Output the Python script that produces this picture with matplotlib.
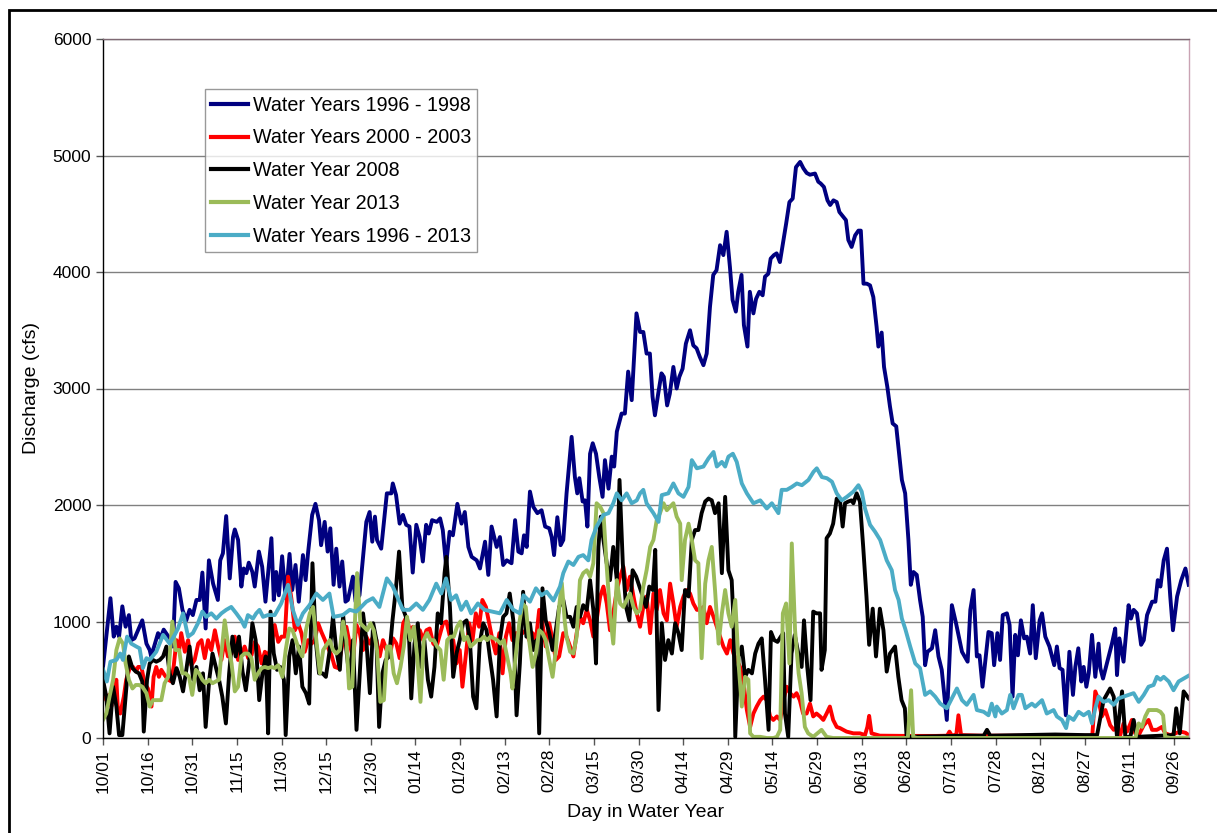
import numpy as np
import matplotlib
matplotlib.use("Agg")
import matplotlib.pyplot as plt
from matplotlib.patches import Rectangle

plt.rcParams['font.family'] = ['Liberation Sans', 'DejaVu Sans']

# daily discharge as (day in water year, cfs)
wy_1996_1998 = [
    (0.0, 610), (2.5, 1200), (3.6, 870), (4.5, 955), (5.4, 870), (6.5, 1130), (7.6, 955), (8.7, 1055),
    (9.5, 840), (10.6, 855), (13.2, 1010), (14.6, 810), (15.7, 755), (16.2, 700), (18.5, 900), (19.3, 855),
    (20.4, 930), (22.4, 855), (23.5, 785), (24.4, 1340), (25.5, 1285), (26.7, 1100), (28.0, 1010), (29.1, 1100),
    (30.2, 1055), (31.4, 1185), (32.5, 1185), (33.4, 1420), (34.5, 940), (35.6, 1525), (37.0, 1325), (38.6, 1185),
    (39.4, 1525), (40.3, 1585), (41.4, 1905), (42.6, 1370), (43.7, 1725), (44.3, 1790), (45.4, 1700), (46.5, 1300),
    (47.3, 1455), (48.2, 1415), (49.0, 1505), (50.2, 1425), (51.0, 1300), (52.4, 1600), (53.5, 1470), (54.6, 1170),
    (56.6, 1715), (57.4, 1185), (58.2, 1425), (59.1, 1225), (60.2, 1560), (61.4, 1200), (62.7, 1580), (63.6, 1270),
    (64.7, 1485), (65.8, 1170), (67.2, 1570), (68.1, 1355), (68.9, 1585), (70.3, 1915), (71.4, 2010), (72.6, 1870),
    (73.3, 1655), (74.5, 1855), (75.5, 1600), (76.4, 1800), (77.5, 1315), (78.4, 1625), (79.5, 1300), (80.4, 1515),
    (81.5, 1170), (82.3, 1185), (84.0, 1385), (84.9, 1170), (86.2, 1225), (88.5, 1855), (89.6, 1940), (90.5, 1685),
    (91.4, 1900), (92.1, 1700), (93.5, 1625), (95.4, 2100), (96.9, 2100), (97.4, 2185), (98.5, 2085), (99.7, 1840),
    (100.8, 1915), (101.9, 1830), (103.0, 1815), (104.1, 1420), (105.3, 1830), (106.4, 1725), (107.5, 1515),
    (108.6, 1830), (109.5, 1755), (110.6, 1870), (112.2, 1855), (113.3, 1885), (114.2, 1785), (115.3, 1485),
    (116.5, 1770), (117.6, 1740), (119.1, 2010), (120.5, 1840), (121.6, 1940), (122.8, 1640), (123.9, 1555),
    (125.6, 1525), (126.7, 1455), (128.4, 1685), (129.5, 1400), (130.6, 1815), (132.3, 1640), (133.4, 1725),
    (134.5, 1485), (135.7, 1525), (137.3, 1500), (138.5, 1870), (139.6, 1600), (140.7, 1585), (141.5, 1740),
    (142.4, 1640), (143.5, 2115), (144.6, 1985), (146.0, 1930), (147.4, 1955), (148.6, 1815), (150.0, 1800),
    (150.8, 1725), (151.6, 1570), (152.7, 1895), (153.8, 1655), (154.7, 1700), (155.8, 2100), (156.7, 2355),
    (157.5, 2585), (158.6, 2240), (159.4, 2100), (160.1, 2230), (161.2, 2030), (162.0, 2040), (162.8, 1815),
    (163.7, 2440), (164.6, 2530), (165.7, 2440), (166.8, 2240), (167.9, 2070), (168.7, 2385), (169.9, 2140),
    (171.0, 2415), (171.8, 2330), (172.7, 2630), (174.3, 2785), (175.4, 2785), (176.5, 3145), (177.7, 2900),
    (179.3, 3645), (180.5, 3485), (181.6, 3485), (182.7, 3300), (183.8, 3300), (184.7, 2930), (185.5, 2770),
    (186.6, 2955), (187.7, 3130), (188.5, 3100), (189.6, 2855), (190.5, 2955), (191.7, 3185), (192.8, 3000),
    (193.7, 3100), (194.8, 3170), (195.9, 3385), (197.3, 3500), (198.4, 3370), (199.5, 3345), (200.6, 3270),
    (201.8, 3200), (202.9, 3300), (204.0, 3700), (205.1, 3975), (206.2, 4015), (207.4, 4230), (208.5, 4145),
    (209.6, 4345), (210.7, 4045), (211.6, 3760), (212.7, 3660), (213.5, 3830), (214.6, 3975), (215.4, 3545),
    (216.6, 3360), (217.4, 3830), (218.6, 3645), (219.5, 3770), (220.6, 3830), (221.7, 3800), (222.5, 3960),
    (223.6, 3985), (224.4, 4115), (225.5, 4145), (226.4, 4160), (227.5, 4085), (228.7, 4275), (229.6, 4415),
    (230.7, 4600), (231.8, 4630), (232.9, 4900), (234.3, 4945), (235.4, 4890), (236.5, 4850), (237.6, 4835),
    (239.3, 4845), (240.4, 4775), (241.2, 4760), (242.3, 4730), (243.5, 4615), (244.4, 4575), (245.5, 4615),
    (246.6, 4600), (247.5, 4515), (248.6, 4480), (249.7, 4445), (250.5, 4275), (251.6, 4215), (252.8, 4315),
    (253.9, 4355), (254.7, 4355), (255.6, 3900), (256.7, 3900), (257.8, 3885), (258.9, 3785), (260.0, 3530),
    (260.6, 3360), (261.7, 3480), (262.5, 3185), (263.6, 3015), (264.5, 2845), (265.4, 2700), (266.6, 2675),
    (268.5, 2215), (269.6, 2100), (270.7, 1700), (271.5, 1315), (272.4, 1425), (273.5, 1400), (274.6, 1185),
    (275.5, 1040), (276.3, 625), (277.1, 740), (278.6, 770), (279.7, 925), (280.8, 700), (281.9, 585),
    (283.6, 155), (285.3, 1140), (286.7, 985), (288.7, 740), (290.6, 655), (291.5, 1100), (292.6, 1270),
    (293.7, 700), (294.6, 710), (295.6, 440), (297.6, 910), (298.7, 900), (299.5, 625), (300.6, 900),
    (301.5, 670), (302.4, 1055), (303.8, 1070), (304.7, 970), (305.7, 355), (306.6, 885), (307.5, 710),
    (308.5, 1010), (309.6, 855), (310.5, 870), (311.6, 725), (312.5, 1140), (313.5, 685), (314.8, 1010),
    (315.6, 1070), (316.7, 870), (318.1, 785), (319.7, 625), (320.6, 785), (321.5, 600), (322.5, 585),
    (323.6, 195), (324.8, 740), (326.0, 370), (326.8, 610), (327.8, 770), (328.8, 485), (329.6, 610),
    (330.5, 440), (331.3, 555), (332.4, 885), (333.5, 525), (334.6, 810), (335.2, 600), (336.1, 510),
    (338.0, 700), (339.1, 810), (340.2, 940), (340.8, 540), (341.6, 855), (343.0, 655), (344.7, 1140),
    (345.5, 1025), (346.4, 1100), (347.5, 1070), (348.9, 800), (349.8, 840), (350.9, 1055), (352.6, 1170),
    (353.7, 1170), (354.5, 1355), (355.4, 1300), (356.5, 1525), (357.6, 1625), (358.7, 1215), (359.6, 925),
    (361.0, 1215), (362.4, 1355), (363.8, 1455), (364.9, 1315),
]

wy_2000_2003 = [
    (0.0, 440), (1.1, 325), (2.0, 370), (2.8, 270), (3.6, 440), (4.5, 500), (5.0, 240), (5.8, 210),
    (7.0, 355), (7.8, 500), (9.0, 600), (10.1, 610), (11.2, 570), (11.8, 610), (12.9, 610), (14.0, 470),
    (15.1, 425), (16.3, 270), (17.0, 525), (17.9, 610), (18.8, 525), (19.6, 585), (20.7, 540), (21.9, 500),
    (23.0, 485), (23.8, 625), (24.7, 840), (25.6, 755), (26.3, 900), (27.5, 740), (28.6, 840), (29.7, 625),
    (30.8, 670), (32.0, 810), (33.1, 840), (34.2, 685), (35.3, 840), (36.4, 755), (37.6, 925), (38.7, 785),
    (39.8, 670), (40.9, 840), (42.0, 700), (43.2, 725), (44.3, 870), (45.4, 670), (46.5, 710), (47.6, 785),
    (48.8, 685), (49.9, 710), (51.0, 825), (52.1, 785), (53.3, 640), (54.4, 740), (55.5, 710), (56.6, 785),
    (57.7, 970), (58.9, 825), (60.0, 870), (61.1, 870), (62.2, 1385), (63.3, 1200), (64.5, 925), (65.6, 985),
    (66.7, 900), (67.8, 740), (68.9, 840), (70.1, 810), (71.2, 840), (72.3, 985), (73.4, 910), (74.6, 840),
    (75.7, 770), (76.8, 710), (77.9, 610), (79.0, 600), (80.7, 840), (81.8, 955), (82.9, 810), (84.0, 685),
    (85.2, 970), (86.3, 900), (87.4, 755), (88.5, 870), (89.7, 810), (90.8, 870), (91.9, 840), (93.0, 700),
    (94.1, 840), (95.3, 755), (96.4, 710), (97.5, 855), (98.6, 810), (99.7, 685), (100.9, 985), (102.0, 1040),
    (103.1, 925), (104.2, 955), (105.3, 840), (106.5, 925), (107.6, 840), (108.7, 925), (109.8, 940),
    (111.0, 810), (112.1, 785), (113.2, 885), (114.3, 985), (115.4, 1000), (116.6, 870), (117.7, 840),
    (118.8, 640), (119.9, 755), (120.8, 440), (121.9, 700), (123.1, 985), (124.2, 840), (125.3, 1070),
    (126.4, 955), (127.5, 1185), (128.7, 1125), (129.8, 985), (130.9, 840), (132.0, 725), (133.2, 900),
    (134.3, 555), (135.4, 870), (136.5, 985), (137.6, 840), (138.8, 900), (139.9, 900), (141.0, 900),
    (142.1, 925), (143.2, 840), (144.4, 900), (145.5, 840), (146.6, 1100), (147.7, 985), (148.8, 785),
    (150.0, 985), (151.1, 840), (152.2, 670), (153.3, 700), (154.7, 900), (155.8, 870), (157.0, 785),
    (158.1, 700), (159.2, 900), (160.3, 1040), (161.4, 985), (162.6, 1100), (163.7, 1010), (164.8, 870),
    (165.9, 1010), (167.1, 1215), (168.2, 1300), (169.3, 1155), (170.4, 925), (171.5, 1070), (172.7, 1270),
    (173.8, 1385), (174.9, 1470), (176.0, 1270), (177.1, 1385), (178.3, 1215), (179.4, 1070), (180.5, 955),
    (181.6, 1125), (182.7, 1215), (183.9, 900), (185.0, 1240), (186.1, 1100), (187.2, 1270), (188.4, 1070),
    (189.5, 1010), (190.6, 1325), (191.7, 1155), (192.8, 955), (194.0, 1125), (195.1, 1215), (196.2, 1270),
    (197.3, 1240), (198.4, 1155), (199.6, 1100), (200.7, 1100), (201.8, 1125), (202.9, 985), (204.0, 1125),
    (205.2, 1040), (206.3, 955), (207.4, 870), (208.5, 785), (209.7, 725), (210.8, 840), (211.9, 725),
    (213.0, 670), (214.1, 610), (215.3, 470), (216.4, 240), (217.5, 95), (218.6, 210), (219.7, 270),
    (220.9, 325), (222.0, 355), (223.1, 325), (224.2, 185), (225.3, 155), (226.5, 185), (227.6, 155),
    (228.7, 325), (229.8, 440), (230.9, 385), (232.1, 355), (233.1, 385), (234.2, 325), (235.3, 210),
    (236.5, 210), (237.6, 295), (238.7, 185), (239.8, 210), (241.0, 185), (242.1, 155), (243.2, 210),
    (244.3, 270), (245.4, 155), (246.6, 95), (247.7, 85), (249.9, 55), (252.2, 40), (254.4, 40), (256.1, 25),
    (256.9, 95), (257.5, 190), (258.3, 40), (261.1, 20), (270.0, 18), (280.0, 18), (283.7, 20), (284.5, 55),
    (285.3, 20), (286.8, 30), (287.5, 195), (288.4, 25), (295.0, 20), (310.0, 20), (320.0, 20), (332.5, 20),
    (333.5, 400), (334.6, 325), (335.7, 185), (336.9, 240), (338.5, 110), (339.7, 70), (340.8, 95),
    (341.9, 25), (343.0, 125), (344.2, 55), (345.8, 155), (346.9, 40), (348.1, 25), (349.8, 110),
    (351.4, 155), (352.6, 70), (354.2, 70), (355.9, 95), (357.0, 40), (358.7, 25), (360.4, 40), (362.1, 55),
    (363.8, 45), (364.9, 25),
]

wy_2008 = [
    (0.0, 500), (1.1, 355), (2.2, 40), (3.4, 440), (4.5, 270), (5.4, 25), (6.5, 25), (7.6, 355), (8.7, 700),
    (9.9, 600), (11.0, 570), (12.1, 555), (13.2, 485), (13.7, 55), (14.8, 500), (15.7, 640), (16.8, 670),
    (17.9, 655), (19.1, 670), (20.2, 700), (21.3, 785), (22.4, 555), (23.5, 470), (24.7, 600), (25.8, 525),
    (26.9, 400), (28.0, 585), (29.1, 785), (30.3, 500), (31.4, 610), (32.5, 410), (33.6, 555), (34.5, 95),
    (35.7, 500), (36.8, 725), (37.9, 610), (39.0, 500), (40.1, 355), (41.3, 125), (42.4, 555), (43.5, 870),
    (44.6, 700), (45.7, 870), (46.9, 570), (48.0, 410), (49.1, 640), (50.2, 985), (51.3, 840), (52.5, 325),
    (53.6, 555), (54.7, 700), (55.5, 40), (56.3, 1085), (57.4, 725), (58.5, 585), (59.6, 610), (60.8, 500),
    (61.4, 25), (62.6, 700), (63.7, 840), (64.8, 555), (65.9, 785), (67.0, 440), (68.2, 385), (69.3, 295),
    (70.4, 1500), (71.5, 840), (72.6, 555), (73.8, 555), (74.9, 525), (76.2, 755), (77.3, 1040), (78.4, 755),
    (79.6, 585), (80.7, 1055), (81.8, 755), (82.9, 500), (84.0, 840), (85.2, 70), (86.3, 555), (87.4, 1070),
    (88.5, 840), (89.7, 385), (90.8, 985), (91.9, 840), (92.8, 95), (93.9, 555), (95.0, 670), (96.2, 700),
    (97.3, 1010), (98.4, 1270), (99.5, 1600), (100.6, 1125), (101.8, 1040), (102.9, 840), (103.6, 340),
    (104.7, 810), (105.8, 985), (106.9, 610), (108.0, 840), (109.2, 500), (110.3, 355), (111.4, 610),
    (112.5, 1070), (113.6, 985), (114.8, 1415), (115.4, 1555), (116.6, 1125), (117.7, 525), (118.8, 725),
    (119.9, 840), (121.0, 985), (122.2, 1010), (123.3, 840), (124.4, 355), (125.5, 255), (126.6, 810),
    (127.8, 985), (128.9, 925), (130.0, 700), (131.1, 500), (132.3, 185), (133.4, 840), (134.5, 1040),
    (135.6, 1070), (136.7, 1240), (137.9, 1010), (139.0, 195), (140.1, 640), (141.2, 1255), (142.3, 870),
    (143.5, 985), (144.6, 755), (145.7, 840), (146.6, 40), (147.7, 1285), (148.8, 1010), (150.0, 900),
    (151.1, 755), (152.2, 925), (153.3, 1125), (154.7, 1185), (155.8, 1040), (157.0, 1040), (158.1, 955),
    (159.2, 1125), (160.3, 1040), (161.4, 1140), (162.6, 1100), (163.7, 1355), (164.8, 1100), (165.7, 640),
    (166.5, 1640), (167.3, 1900), (168.2, 1700), (169.3, 1500), (170.4, 1355), (171.5, 1640), (172.7, 1355),
    (173.6, 2215), (174.7, 1500), (175.8, 1125), (176.9, 1010), (178.0, 1440), (179.2, 1385), (180.3, 1300),
    (181.4, 1215), (182.5, 1125), (183.6, 1300), (184.8, 1270), (185.6, 1615), (186.7, 240), (187.8, 985),
    (188.9, 670), (190.0, 840), (191.2, 725), (192.3, 985), (193.4, 900), (194.5, 755), (195.6, 1270),
    (196.8, 1215), (197.9, 1700), (199.0, 1785), (200.1, 1785), (201.2, 1930), (202.4, 2030), (203.5, 2055),
    (204.6, 2040), (205.7, 1930), (206.9, 2015), (208.0, 1415), (209.1, 2070), (210.2, 1440), (211.3, 1355),
    (211.9, 1010), (212.5, 10), (213.6, 700), (214.7, 785), (215.8, 525), (216.9, 585), (218.1, 555),
    (219.2, 725), (220.3, 810), (221.4, 855), (222.5, 500), (223.7, 70), (224.5, 910), (225.6, 840),
    (226.7, 825), (227.8, 870), (228.6, 900), (229.2, 210), (230.3, 10), (231.4, 725), (232.5, 885),
    (233.7, 725), (234.8, 610), (235.6, 1010), (236.7, 610), (237.8, 325), (238.7, 1085), (239.8, 1070),
    (241.0, 1070), (241.5, 585), (242.6, 755), (243.2, 1715), (244.3, 1755), (245.4, 1840), (246.6, 2055),
    (247.7, 2040), (248.6, 1815), (249.4, 2015), (250.5, 2030), (251.6, 2040), (252.2, 2015), (253.3, 2100),
    (254.4, 2030), (255.5, 1640), (256.6, 1215), (257.5, 800), (258.7, 1110), (259.8, 700), (261.1, 1110),
    (262.3, 925), (263.4, 570), (264.5, 725), (266.2, 785), (267.3, 525), (268.4, 325), (269.5, 255),
    (270.1, 10), (280.0, 15), (290.0, 20), (296.0, 20), (297.1, 70), (298.2, 20), (310.0, 25), (320.0, 30),
    (330.0, 25), (334.1, 25), (336.3, 325), (338.5, 425), (339.7, 355), (340.8, 10), (342.5, 400),
    (343.6, 10), (345.3, 10), (346.4, 155), (347.5, 10), (359.8, 25), (360.7, 255), (361.9, 40),
    (363.2, 400), (364.9, 340),
]

wy_2013 = [
    (0.0, 155), (1.1, 210), (2.2, 355), (3.4, 500), (4.5, 755), (5.6, 855), (6.7, 810), (7.6, 640),
    (8.7, 500), (9.9, 425), (11.0, 455), (12.1, 455), (13.2, 440), (14.6, 385), (15.7, 270), (16.8, 325),
    (18.5, 325), (19.6, 325), (20.7, 470), (21.9, 525), (22.4, 700), (23.3, 1000), (24.4, 755), (25.6, 755),
    (26.7, 555), (27.8, 555), (28.9, 525), (30.0, 370), (31.2, 585), (32.3, 555), (33.4, 500), (34.5, 470),
    (35.7, 500), (36.8, 470), (37.9, 485), (39.0, 500), (39.8, 725), (40.9, 1010), (42.0, 810), (43.2, 640),
    (44.3, 400), (45.4, 440), (46.5, 700), (47.6, 725), (48.8, 725), (49.9, 685), (51.0, 500), (52.1, 555),
    (53.3, 600), (54.4, 610), (55.5, 600), (56.6, 610), (57.7, 600), (58.9, 625), (60.3, 525), (61.4, 755),
    (62.6, 940), (63.7, 925), (64.8, 840), (65.9, 755), (67.0, 700), (68.2, 925), (69.5, 1070), (70.6, 1125),
    (71.7, 840), (72.9, 555), (74.0, 755), (76.2, 840), (77.3, 755), (78.4, 725), (79.6, 755), (80.7, 1000),
    (81.8, 840), (82.7, 425), (83.8, 440), (84.6, 955), (85.4, 1415), (86.5, 985), (87.6, 955), (88.8, 925),
    (89.9, 985), (91.0, 925), (92.1, 755), (93.2, 310), (94.4, 325), (95.5, 785), (96.6, 785), (97.7, 555),
    (98.8, 470), (100.0, 610), (101.1, 785), (102.2, 1040), (103.3, 840), (104.5, 955), (105.6, 700),
    (106.7, 310), (107.8, 840), (108.9, 900), (110.1, 840), (111.2, 840), (112.3, 785), (113.4, 755),
    (114.5, 500), (115.7, 840), (116.8, 870), (117.9, 870), (119.0, 955), (120.1, 1000), (121.3, 840),
    (122.4, 870), (123.5, 785), (124.6, 810), (125.8, 840), (126.9, 840), (128.0, 870), (129.1, 840),
    (130.2, 870), (131.4, 855), (132.5, 840), (133.6, 810), (134.7, 840), (135.8, 700), (137.0, 555),
    (137.6, 425), (138.8, 725), (139.9, 985), (141.0, 1155), (142.1, 1125), (143.2, 840), (144.4, 610),
    (145.5, 725), (146.6, 925), (147.7, 900), (148.8, 840), (150.0, 670), (151.1, 525), (152.2, 755),
    (153.3, 1125), (154.2, 1330), (155.2, 1000), (155.8, 870), (157.0, 740), (158.1, 725), (159.2, 870),
    (160.3, 1355), (161.4, 1415), (162.6, 1440), (163.7, 1385), (164.8, 1500), (165.9, 2015), (167.1, 1985),
    (168.2, 1930), (169.3, 1470), (170.4, 1070), (171.5, 810), (172.7, 1355), (173.8, 1155), (174.9, 1125),
    (176.0, 1185), (177.1, 1240), (178.3, 1125), (179.4, 1070), (180.5, 1100), (181.6, 1300), (182.7, 1440),
    (183.9, 1640), (185.0, 1700), (186.1, 1870), (187.2, 1930), (188.4, 2015), (189.5, 1955), (190.6, 1985),
    (191.7, 2015), (192.8, 1900), (194.0, 1840), (194.5, 1355), (195.6, 1700), (196.8, 1840), (197.9, 1700),
    (199.0, 1525), (200.1, 1500), (201.2, 685), (202.4, 1325), (203.5, 1525), (204.6, 1640), (205.7, 1270),
    (206.9, 810), (208.0, 1070), (209.1, 1270), (210.2, 1070), (211.3, 955), (212.5, 1185), (213.6, 640),
    (214.7, 270), (215.8, 525), (216.9, 500), (217.5, 40), (218.6, 10), (220.9, 10), (223.1, 0), (225.3, 0),
    (226.5, 10), (227.6, 70), (228.5, 1070), (229.6, 1155), (230.7, 640), (231.5, 1670), (232.6, 925),
    (233.8, 555), (234.8, 385), (235.9, 95), (237.0, 40), (238.7, 10), (240.1, 40), (241.5, 70), (243.2, 10),
    (245.4, 0), (270.5, 0), (271.6, 410), (272.3, 10), (273.5, 0), (347.0, 0), (348.1, 125), (349.2, 95),
    (350.3, 185), (351.4, 240), (352.6, 240), (354.2, 240), (355.4, 225), (356.3, 195), (357.0, 10),
    (358.7, 0), (364.9, 5),
]

wy_1996_2013 = [
    (0.0, 590), (1.3, 485), (2.5, 655), (4.5, 670), (5.8, 725), (6.7, 670), (8.1, 870), (9.5, 810),
    (11.2, 785), (12.3, 770), (13.4, 600), (14.6, 685), (15.7, 670), (17.9, 740), (20.2, 885), (22.4, 810),
    (24.1, 885), (25.2, 940), (26.9, 1070), (28.6, 870), (30.2, 900), (31.9, 985), (33.4, 1085), (34.7, 1040),
    (36.4, 1070), (38.1, 1025), (39.8, 1070), (41.4, 1100), (43.1, 1125), (44.8, 1070), (46.5, 1010),
    (47.6, 955), (48.7, 1055), (50.4, 1025), (51.5, 1070), (52.6, 1100), (53.8, 1040), (55.4, 1055),
    (57.7, 1055), (59.9, 1155), (62.2, 1315), (63.8, 1100), (65.5, 970), (67.2, 1070), (69.4, 1140),
    (71.7, 1240), (73.9, 1185), (76.1, 1240), (77.5, 1040), (80.6, 1055), (82.9, 1100), (85.1, 1085),
    (86.8, 1125), (88.5, 1170), (90.7, 1200), (92.9, 1125), (95.4, 1370), (97.4, 1300), (99.1, 1200),
    (100.8, 1100), (103.0, 1100), (105.3, 1155), (107.5, 1100), (109.7, 1185), (112.0, 1325), (113.7, 1240),
    (115.3, 1370), (117.0, 1185), (118.7, 1225), (120.4, 1100), (122.1, 1170), (123.7, 1070), (126.0, 1155),
    (128.2, 1100), (133.4, 1070), (135.7, 1185), (137.9, 1100), (140.1, 1070), (141.3, 1225), (143.5, 1170),
    (145.5, 1285), (147.4, 1225), (149.1, 1255), (151.4, 1180), (153.6, 1300), (154.7, 1415), (156.4, 1515),
    (158.1, 1485), (159.8, 1555), (161.4, 1570), (163.1, 1525), (164.2, 1700), (165.9, 1815), (168.2, 1915),
    (169.9, 1930), (171.5, 2015), (172.7, 2100), (174.3, 2040), (176.0, 2100), (177.7, 2015), (179.4, 2040),
    (180.5, 2100), (181.6, 2130), (182.7, 2015), (185.0, 1930), (186.7, 1855), (187.8, 2085), (190.0, 2100),
    (191.7, 2185), (193.4, 2100), (195.1, 2070), (196.8, 2155), (197.9, 2385), (199.6, 2315), (201.8, 2330),
    (203.5, 2400), (205.2, 2455), (206.3, 2330), (208.0, 2370), (209.1, 2330), (210.2, 2415), (211.7, 2440),
    (213.0, 2370), (214.7, 2185), (216.4, 2100), (218.6, 2015), (220.9, 2040), (223.1, 1970), (224.8, 2015),
    (227.0, 1930), (228.1, 2130), (229.8, 2130), (231.5, 2155), (233.2, 2185), (234.9, 2170), (237.1, 2215),
    (238.8, 2285), (239.9, 2315), (241.6, 2240), (243.3, 2230), (245.0, 2200), (246.6, 2100), (248.3, 2040),
    (250.0, 2070), (252.2, 2115), (253.9, 2170), (255.0, 2115), (256.1, 1970), (257.8, 1830), (259.5, 1770),
    (261.2, 1700), (263.4, 1525), (265.1, 1440), (266.2, 1270), (267.4, 1185), (268.5, 1025), (269.6, 940),
    (271.3, 785), (273.0, 640), (274.6, 600), (276.3, 370), (278.0, 400), (279.7, 355), (281.4, 295),
    (283.6, 255), (285.3, 340), (287.0, 425), (288.7, 325), (290.3, 285), (292.6, 370), (293.7, 240),
    (296.0, 225), (297.6, 195), (298.7, 295), (299.9, 185), (300.4, 270), (302.1, 210), (303.8, 240),
    (304.9, 370), (306.0, 255), (307.7, 370), (308.8, 370), (310.0, 255), (312.2, 295), (313.3, 270),
    (315.6, 325), (317.2, 210), (319.5, 240), (320.6, 185), (322.3, 155), (323.7, 85), (324.5, 185),
    (326.2, 155), (327.9, 225), (329.6, 195), (331.3, 225), (332.4, 125), (333.5, 255), (334.6, 355),
    (336.3, 310), (338.0, 325), (339.7, 285), (341.3, 340), (343.0, 355), (344.7, 370), (346.4, 385),
    (348.1, 310), (349.8, 370), (351.4, 440), (353.1, 455), (354.2, 525), (355.4, 500), (356.5, 525),
    (358.2, 485), (359.8, 410), (361.5, 485), (363.2, 510), (364.9, 535),
]

series = [
    ("Water Years 1996 - 1998", wy_1996_1998, "#000080"),
    ("Water Years 2000 - 2003", wy_2000_2003, "#FF0000"),
    ("Water Year 2008", wy_2008, "#000000"),
    ("Water Year 2013", wy_2013, "#9BBB59"),
    ("Water Years 1996 - 2013", wy_1996_2013, "#4BACC6"),
]

tick_days = np.arange(0, 361, 15)
tick_labels = ["10/01", "10/16", "10/31", "11/15", "11/30", "12/15", "12/30", "01/14", "01/29",
               "02/13", "02/28", "03/15", "03/30", "04/14", "04/29", "05/14", "05/29", "06/13",
               "06/28", "07/13", "07/28", "08/12", "08/27", "09/11", "09/26"]

fig = plt.figure(figsize=(12.17, 8.33), dpi=100)
ax = fig.add_axes([103 / 1217, 1 - 738 / 833, 1086 / 1217, 699 / 833])

for name, pts, col in series:
    d, q = zip(*pts)
    ax.plot(d, q, color=col, lw=2.8, label=name, solid_joinstyle='round')

ax.set_xlim(0, 365)
ax.set_ylim(0, 6000)
ax.set_yticks(np.arange(0, 6001, 1000))
ax.set_xticks(tick_days)
ax.set_xticklabels(tick_labels, rotation=90)
ax.tick_params(axis='both', labelsize=12.5, direction='out', length=5, width=1, color='#555555')
ax.tick_params(axis='x', pad=3)
ax.grid(axis='y', color='#808080', lw=1)
ax.set_axisbelow(True)

ax.spines['left'].set_color('black')
ax.spines['bottom'].set_color('black')
ax.spines['top'].set_color('#7f6a74')
ax.spines['right'].set_color('#c9a3b3')
for s in ax.spines.values():
    s.set_linewidth(1)

ax.set_ylabel("Discharge (cfs)", fontsize=14, labelpad=9)
ax.set_xlabel("Day in Water Year", fontsize=14, labelpad=8)

leg = ax.legend(loc='upper left', bbox_to_anchor=(0.094, 0.928), borderaxespad=0,
                fontsize=14.2, frameon=True, fancybox=False, handlelength=1.85,
                handletextpad=0.25, labelspacing=0.7, borderpad=0.32)
leg.get_frame().set_edgecolor('#808080')
leg.get_frame().set_linewidth(1)
for ln in leg.get_lines():
    ln.set_linewidth(3)

# chart border from the source figure
fig.add_artist(Rectangle((9 / 1217, -0.05), 1.1, 1 - 10 / 833 + 0.05, transform=fig.transFigure,
                         fill=False, ec='black', lw=2))

fig.savefig("out.png", dpi=100)
